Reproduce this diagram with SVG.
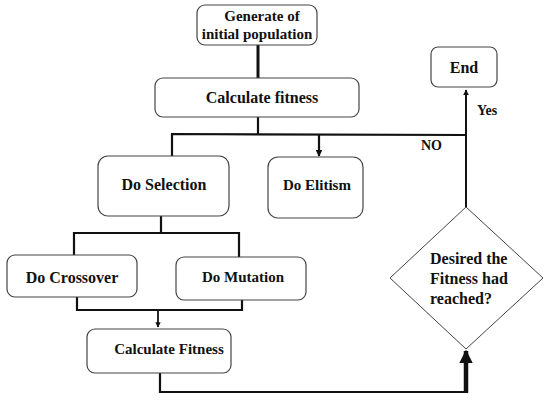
<svg xmlns="http://www.w3.org/2000/svg" width="550" height="400" viewBox="0 0 550 400">
<style>
.box{fill:#fff;stroke:#444;stroke-width:1.2}
.t{font-family:"Liberation Serif","Times New Roman",serif;font-weight:bold;fill:#111}
.c{fill:none;stroke:#111;stroke-width:2.2}
</style>
<defs>
<marker id="ah" viewBox="0 0 10 10" refX="9" refY="5" markerWidth="3" markerHeight="3" orient="auto" markerUnits="strokeWidth">
<path d="M0,0 L10,5 L0,10 z" fill="#111"/>
</marker>
</defs>
<rect width="550" height="400" fill="#fff"/>
<g id="connectors">
<line class="c" x1="258" y1="45" x2="258" y2="78" style="stroke-width:3"/>
<polyline class="c" points="258,117 258,134"/>
<polyline class="c" points="172,156 172,134 466,135"/>
<line class="c" x1="319" y1="134" x2="319" y2="156" marker-end="url(#ah)"/>
<polyline class="c" points="161,216 161,233"/>
<polyline class="c" points="74,255 74,233 239,233 239,257"/>
<polyline class="c" points="77,297 77,310 242,310 242,300"/>
<line class="c" x1="158" y1="310" x2="158" y2="327" style="stroke-width:1.8" marker-end="url(#ah)"/>
<polyline class="c" points="160,373 160,392 466,392"/>
<line class="c" x1="466" y1="393" x2="466" y2="351" style="stroke-width:4.5" marker-end="url(#ah)"/>
<line class="c" x1="466" y1="207" x2="466" y2="90" style="stroke-width:2" marker-end="url(#ah)"/>
<text class="t" x="477" y="115" font-size="14">Yes</text>
<text class="t" x="421" y="150" font-size="14">NO</text>
</g>
<g id="generate">
<rect class="box" x="197" y="5" width="120" height="40" rx="8"/>
<text class="t" x="262" y="21" font-size="15" text-anchor="middle">Generate of</text>
<text class="t" x="257" y="39" font-size="15" text-anchor="middle">initial  population</text>
</g>
<g id="calc1">
<rect class="box" x="155" y="78" width="204" height="39" rx="8"/>
<text class="t" x="262" y="103" font-size="16" text-anchor="middle">Calculate fitness</text>
</g>
<g id="selection">
<rect class="box" x="98" y="156" width="131" height="60" rx="10"/>
<text class="t" x="164" y="190" font-size="16" text-anchor="middle">Do Selection</text>
</g>
<g id="elitism">
<rect class="box" x="268" y="157" width="95" height="61" rx="10"/>
<text class="t" x="317" y="190" font-size="15" text-anchor="middle">Do Elitism</text>
</g>
<g id="crossover">
<rect class="box" x="7" y="255" width="130" height="42" rx="8"/>
<text class="t" x="72" y="283" font-size="16" text-anchor="middle">Do Crossover</text>
</g>
<g id="mutation">
<rect class="box" x="176" y="257" width="130" height="43" rx="8"/>
<text class="t" x="243" y="282" font-size="15" text-anchor="middle">Do Mutation</text>
</g>
<g id="calc2">
<rect class="box" x="87" y="329" width="144" height="44" rx="8"/>
<text class="t" x="169" y="354" font-size="15" text-anchor="middle">Calculate Fitness</text>
</g>
<g id="decision">
<polygon class="box" points="466,207 543,278 466,349 390,278" style="stroke-width:1"/>
<text class="t" x="430" y="264" font-size="16">Desired the</text>
<text class="t" x="430" y="284" font-size="16">Fitness had</text>
<text class="t" x="430" y="304" font-size="16">reached?</text>
</g>
<g id="end">
<rect class="box" x="431" y="47" width="66" height="40" rx="7"/>
<text class="t" x="464" y="73" font-size="16" text-anchor="middle">End</text>
</g>
</svg>
